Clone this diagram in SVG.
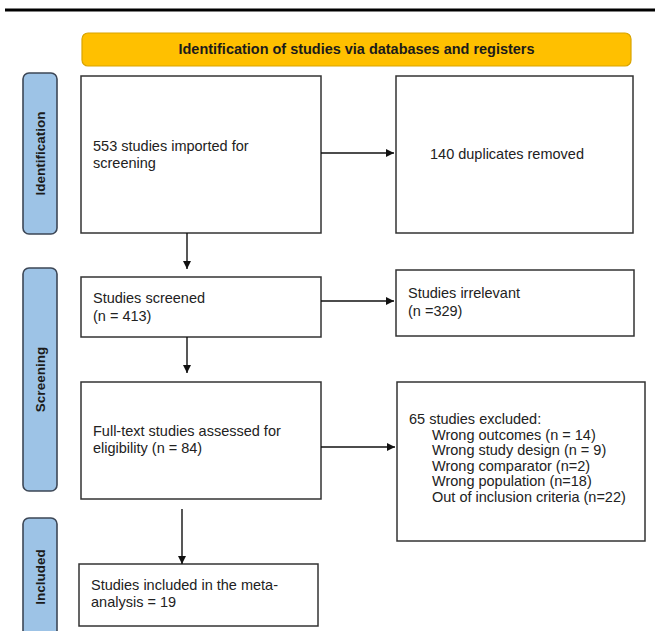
<svg xmlns="http://www.w3.org/2000/svg" width="655" height="631" viewBox="0 0 655 631">
<style>
.box{fill:#fff;stroke:#333;stroke-width:1.5}
.side{fill:#9dc3e6;stroke:#3d4756;stroke-width:1.6}
.t{font-family:"Liberation Sans",Arial,sans-serif;font-size:14.5px;fill:#222}
.st{font-family:"Liberation Sans",Arial,sans-serif;font-size:13.5px;font-weight:bold;fill:#1b1b1b}
.c{stroke:#111;stroke-width:1.4;fill:none;marker-end:url(#ah)}
</style>
<defs>
<marker id="ah" viewBox="0 0 10 10" refX="10" refY="5" markerWidth="10" markerHeight="8" markerUnits="userSpaceOnUse" orient="auto">
<path d="M0,0 L10,5 L0,10 z" fill="#111"/>
</marker>
</defs>
<rect x="5" y="8.5" width="650" height="3" fill="#000"/>
<g id="banner">
<rect x="82" y="33" width="549" height="33" rx="6" fill="#ffc000" stroke="#d9a400" stroke-width="1.2"/>
<text x="356.5" y="54" text-anchor="middle" textLength="356" lengthAdjust="spacingAndGlyphs" style="font-family:'Liberation Sans',Arial,sans-serif;font-size:15.5px;font-weight:bold;fill:#1b1b1b">Identification  of studies via databases and registers</text>
</g>
<g id="side-identification">
<rect class="side" x="23" y="73" width="34" height="161" rx="6"/>
<text class="st" transform="translate(45,153.5) rotate(-90)" text-anchor="middle">Identification</text>
</g>
<g id="side-screening">
<rect class="side" x="23" y="268" width="34" height="223" rx="6"/>
<text class="st" transform="translate(45,379.5) rotate(-90)" text-anchor="middle">Screening</text>
</g>
<g id="side-included">
<rect class="side" x="23" y="518" width="34" height="120" rx="6"/>
<text class="st" transform="translate(45,577) rotate(-90)" text-anchor="middle">Included</text>
</g>
<g id="n-imported">
<rect class="box" x="81" y="76" width="240" height="157"/>
<text class="t" x="93" y="151">553 studies imported for</text>
<text class="t" x="93" y="168">screening</text>
</g>
<g id="n-duplicates">
<rect class="box" x="396" y="76" width="237" height="157"/>
<text class="t" x="430" y="159">140 duplicates removed</text>
</g>
<g id="n-screened">
<rect class="box" x="81" y="277" width="240" height="60"/>
<text class="t" x="93" y="303">Studies screened</text>
<text class="t" x="93" y="321">(n = 413)</text>
</g>
<g id="n-irrelevant">
<rect class="box" x="396" y="270" width="238" height="66"/>
<text class="t" x="408" y="298">Studies irrelevant</text>
<text class="t" x="408" y="316">(n =329)</text>
</g>
<g id="n-fulltext">
<rect class="box" x="81" y="382" width="240" height="117"/>
<text class="t" x="93" y="436">Full-text studies assessed for</text>
<text class="t" x="93" y="453">eligibility (n = 84)</text>
</g>
<g id="n-excluded">
<rect class="box" x="397" y="382" width="248" height="159"/>
<text class="t" x="409" y="424">65 studies excluded:</text>
<text class="t" x="432" y="439.5">Wrong outcomes (n = 14)</text>
<text class="t" x="432" y="455">Wrong study design (n = 9)</text>
<text class="t" x="432" y="470.5">Wrong comparator (n=2)</text>
<text class="t" x="432" y="486">Wrong population (n=18)</text>
<text class="t" x="432" y="501.5">Out of inclusion criteria (n=22)</text>
</g>
<g id="n-included">
<rect class="box" x="79" y="564" width="239" height="62"/>
<text class="t" x="91" y="590">Studies included in the meta-</text>
<text class="t" x="91" y="607">analysis = 19</text>
</g>
<g id="connectors">
<line class="c" x1="321" y1="153" x2="394" y2="153"/>
<line class="c" x1="187" y1="233" x2="187" y2="269"/>
<line class="c" x1="321" y1="301" x2="394" y2="301"/>
<line class="c" x1="187" y1="337" x2="187" y2="373"/>
<line class="c" x1="321" y1="447" x2="395" y2="447"/>
<line class="c" x1="182" y1="509" x2="182" y2="564"/>
</g>
</svg>
